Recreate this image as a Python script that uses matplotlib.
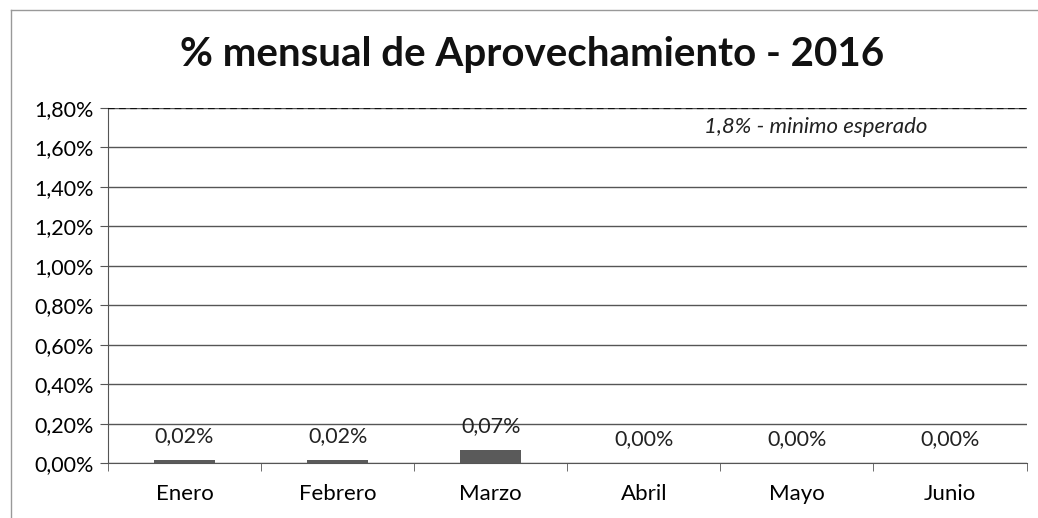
import matplotlib
matplotlib.use("Agg")
import matplotlib.pyplot as plt
from matplotlib.lines import Line2D
from matplotlib.ticker import FuncFormatter

plt.rcParams['font.family'] = ['Lato', 'DejaVu Sans']

meses = ["Enero", "Febrero", "Marzo", "Abril", "Mayo", "Junio"]
aprovechamiento = [0.018, 0.016, 0.066, 0.0, 0.0, 0.0]
minimo_esperado = 1.8
y_ticks = [0.0, 0.2, 0.4, 0.6, 0.8, 1.0, 1.2, 1.4, 1.6, 1.8]


def pct(v, _pos=None):
    return f"{v:.2f}%".replace(".", ",")


fig = plt.figure(figsize=(10.38, 5.18), dpi=100)
ax = fig.add_axes([0.104, 0.106, 0.885, 0.686])

x = range(len(meses))
bars = ax.bar(x, aprovechamiento, width=0.4, color="#5a5a5a", zorder=3)
for b, v in zip(bars, aprovechamiento):
    ax.annotate(pct(v), (b.get_x() + b.get_width() / 2, v),
                xytext=(0, 10), textcoords="offset points",
                ha="center", va="bottom", fontsize=15.5, color="#222222")

# linea de referencia del minimo esperado
ax.axhline(minimo_esperado, color="#111111", ls=(0, (3, 2)), lw=1.6, zorder=4)
ax.text(4.12, 1.70, "1,8% - minimo esperado", style="italic", fontsize=16,
        ha="center", va="center", color="#222222")

ax.set_xlim(-0.5, len(meses) - 0.5)
ax.set_ylim(0, 1.8)
ax.set_yticks(y_ticks)
ax.yaxis.set_major_formatter(FuncFormatter(pct))
ax.yaxis.grid(True, color="#555555", lw=1.0, zorder=0)
ax.set_xticks(list(x))
ax.set_xticklabels(meses)
ax.set_xticks([i - 0.5 for i in range(len(meses) + 1)], minor=True)
ax.tick_params(axis="x", which="major", length=0, pad=15, labelsize=16)
ax.tick_params(axis="x", which="minor", length=6, color="#555555", direction="out")
ax.tick_params(axis="y", length=6, color="#555555", labelsize=15.5, pad=4)

for s in ["top", "right"]:
    ax.spines[s].set_visible(False)
ax.spines["left"].set_color("#555555")
ax.spines["bottom"].set_color("#555555")

fig.text(0.513, 0.894, "% mensual de Aprovechamiento - 2016", ha="center",
         va="center", fontsize=29, fontweight="bold", color="#111111")

# marco exterior (solo se ve el borde izquierdo y superior)
fig.add_artist(Line2D([0.011, 0.011], [0.0, 0.98], color="#999999", lw=1))
fig.add_artist(Line2D([0.011, 1.0], [0.98, 0.98], color="#999999", lw=1))

fig.savefig("out.png", dpi=100)
